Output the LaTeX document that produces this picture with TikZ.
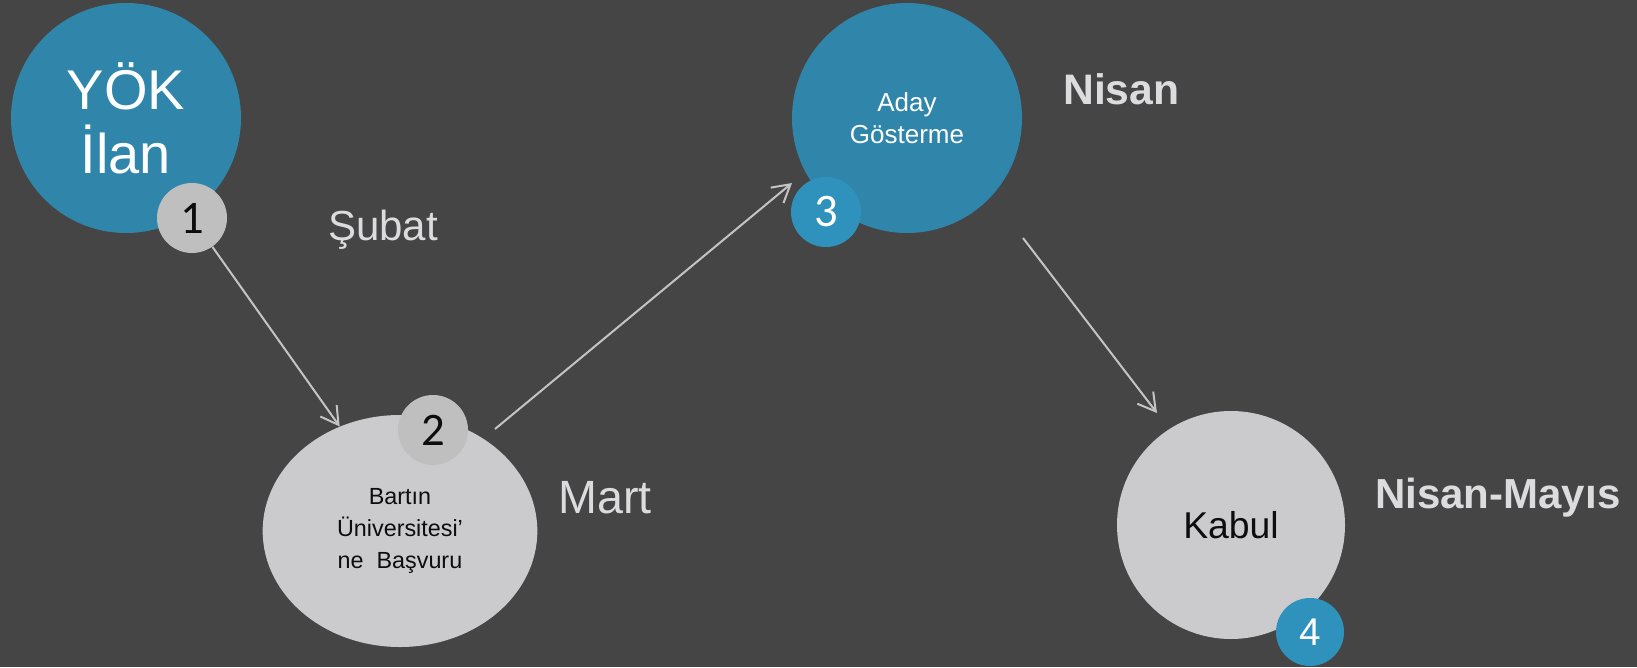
\documentclass[tikz,border=0pt]{standalone}
\usepackage{fontspec}
\setmainfont{Liberation Sans}
\newfontfamily\calib{Carlito}
\usetikzlibrary{shapes.geometric,arrows.meta}
\definecolor{bgc}{HTML}{454545}
\definecolor{bigblue}{HTML}{3086AA}
\definecolor{badgeblue}{HTML}{2F92BC}
\definecolor{lgray}{HTML}{CBCBCD}
\definecolor{bgray}{HTML}{BFBFBF}
\definecolor{dtext}{HTML}{0D0D0D}
\definecolor{ltext}{HTML}{DCDCDE}
\definecolor{arrc}{HTML}{C4C4C4}
\tikzset{
  bigcirc/.style={circle,inner sep=0pt,align=center,minimum size=172.5pt},
  badge/.style={circle,inner sep=0pt,minimum size=52.5pt},
  datelbl/.style={anchor=base west,inner sep=0pt,text=ltext},
  flow/.style={draw=arrc,line width=1.5pt,-{Straight Barb[length=13pt,width=15pt,line width=1.5pt]}}
}
\begin{document}
\begin{tikzpicture}[x=0.75pt,y=-0.75pt]
\useasboundingbox (0,0) rectangle (1637,667);
\fill[bgc] (0,0) rectangle (1637,667);
% step 1
\node[bigcirc,fill=bigblue,text=white,font=\fontsize{42}{48}\selectfont] (c1) at (126,118) {YÖK\\İlan};
\node[badge,fill=bgray,text=dtext,font=\calib\fontsize{35}{40}\selectfont] (b1) at (192,218) {1};
\node[datelbl,font=\fontsize{31.5}{36}\selectfont,text=ltext] (d1) at (328,240) {Şubat};
% step 2
\node[ellipse,fill=lgray,inner sep=0pt,minimum width=206pt,minimum height=174pt,align=center,text=dtext,font=\fontsize{17.5}{24}\selectfont] (e2) at (400,531) {Bartın\\Üniversitesi’\\ne\ \ Başvuru};
\node[badge,fill=bgray,text=dtext,font=\calib\fontsize{35}{40}\selectfont] (b2) at (433,430) {2};
\node[datelbl,font=\fontsize{35}{40}\selectfont] (d2) at (558,513) {Mart};
% step 3
\node[bigcirc,fill=bigblue,text=white,font=\fontsize{19.5}{24}\selectfont] (c3) at (907,118) {Aday\\Gösterme};
\node[badge,fill=badgeblue,text=white,font=\calib\fontsize{35}{40}\selectfont] (b3) at (826,212) {3};
\node[datelbl,font=\bfseries\fontsize{32}{38}\selectfont] (d3) at (1063,104) {Nisan};
% step 4
\node[bigcirc,fill=lgray,text=dtext,minimum size=171pt,font=\fontsize{28}{34}\selectfont] (c4) at (1231,525) {Kabul};
\node[badge,fill=badgeblue,text=white,minimum size=51pt,font=\fontsize{29}{34}\selectfont] (b4) at (1310,632) {4};
\node[datelbl,font=\bfseries\fontsize{31.5}{36}\selectfont] (d4) at (1375,508) {Nisan-Mayıs};
% connectors
\coordinate (a2s) at (495,429);
\coordinate (a2e) at (792,183);
\coordinate (a3s) at (1023,238);
\coordinate (a3e) at (1157,413);
\draw[flow] (b1) -- (e2.120);
\draw[flow] (a2s) -- (a2e);
\draw[flow] (a3s) -- (a3e);
\end{tikzpicture}
\end{document}
